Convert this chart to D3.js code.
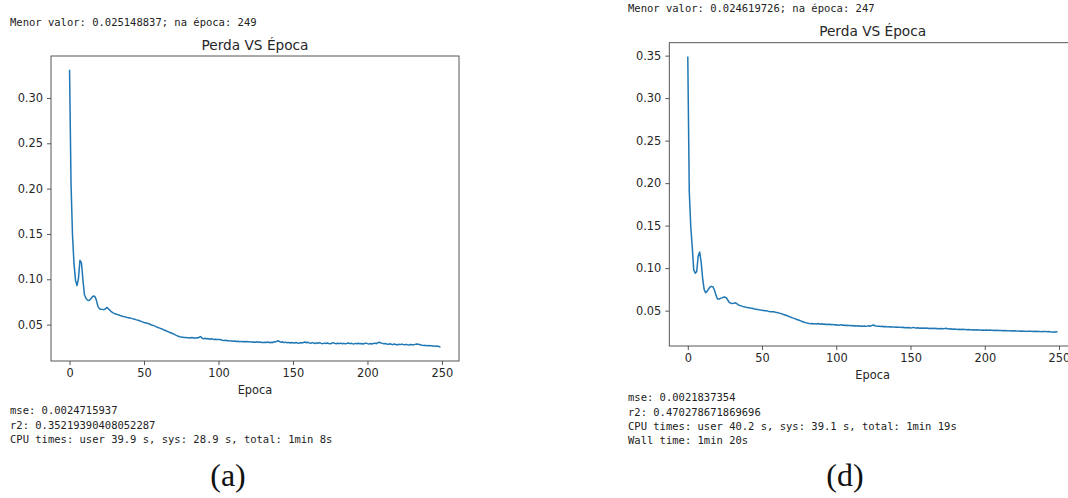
<!DOCTYPE html>
<html>
<head>
<meta charset="utf-8">
<script src="https://cdn.jsdelivr.net/npm/d3@7"></script>
<style>
  body { margin: 0; background: #fff; overflow: hidden; }
  svg { display: block; }
  .mono { font-family: "DejaVu Sans Mono", monospace; font-size: 10.5px; fill: #222; }
  .tick text { font-family: "DejaVu Sans", sans-serif; font-size: 11.4px; fill: #262626; }
  .caption { font-family: "Liberation Serif", serif; font-size: 32px; fill: #111; }
</style>
</head>
<body>
<script>
// loss per epoch, panel (a)
var lossA = [
  0.331, 0.205, 0.148, 0.117, 0.099, 0.093, 0.101, 0.121, 0.118, 0.099,
  0.083, 0.079, 0.077, 0.0765, 0.078, 0.080, 0.0815, 0.081, 0.077, 0.0705,
  0.0675, 0.067, 0.0668, 0.0665, 0.0672, 0.069, 0.0675, 0.066, 0.0642, 0.0632,
  0.0623, 0.0618, 0.0612, 0.0608, 0.0600, 0.0594, 0.0590, 0.0588, 0.0582, 0.0578,
  0.0574, 0.0572, 0.0566, 0.0562, 0.0558, 0.0552, 0.0548, 0.0542, 0.0536, 0.0530,
  0.0524, 0.0521, 0.0515, 0.0512, 0.0504, 0.0496, 0.0492, 0.0486, 0.0478, 0.0470,
  0.0464, 0.0458, 0.0451, 0.0444, 0.0438, 0.0430, 0.0423, 0.0416, 0.0410, 0.0402,
  0.0395, 0.0386, 0.0378, 0.0372, 0.0366, 0.0362, 0.0360, 0.0357, 0.0358, 0.0355,
  0.0356, 0.0353, 0.0358, 0.0354, 0.0350, 0.0356, 0.0352, 0.0360, 0.0368, 0.0350,
  0.0345, 0.0350, 0.0342, 0.0346, 0.0338, 0.0343, 0.0340, 0.0335, 0.0339, 0.0336,
  0.0335, 0.0337, 0.0330, 0.0326, 0.0324, 0.0327, 0.0321, 0.0323, 0.0318, 0.0320,
  0.0316, 0.0319, 0.0314, 0.0317, 0.0312, 0.0315, 0.0311, 0.0314, 0.0310, 0.0313,
  0.0310, 0.0307, 0.0312, 0.0306, 0.0309, 0.0305, 0.0311, 0.0304, 0.0308, 0.0302,
  0.0302, 0.0306, 0.0303, 0.0309, 0.0301, 0.0305, 0.0300, 0.0310, 0.0307, 0.0315,
  0.0322, 0.0312, 0.0305, 0.0310, 0.0301, 0.0307, 0.0299, 0.0304, 0.0297, 0.0303,
  0.0300, 0.0296, 0.0303, 0.0298, 0.0294, 0.0302, 0.0297, 0.0303, 0.0308, 0.0300,
  0.0305, 0.0298, 0.0295, 0.0301, 0.0296, 0.0292, 0.0299, 0.0294, 0.0302, 0.0293,
  0.0290, 0.0296, 0.0291, 0.0297, 0.0292, 0.0288, 0.0295, 0.0301, 0.0293, 0.0289,
  0.0294, 0.0290, 0.0296, 0.0289, 0.0293, 0.0288, 0.0292, 0.0297, 0.0290, 0.0294,
  0.0290, 0.0287, 0.0293, 0.0289, 0.0295, 0.0288, 0.0292, 0.0286, 0.0291, 0.0296,
  0.0290, 0.0285, 0.0292, 0.0287, 0.0291, 0.0296, 0.0289, 0.0300, 0.0305, 0.0298,
  0.0293, 0.0288, 0.0291, 0.0285, 0.0282, 0.0289, 0.0284, 0.0279, 0.0286, 0.0281,
  0.0276, 0.0283, 0.0279, 0.0285, 0.0280, 0.0277, 0.0282, 0.0278, 0.0276, 0.0280,
  0.0277, 0.0279, 0.0282, 0.0285, 0.0283, 0.0280, 0.0275, 0.0272, 0.0270, 0.0271,
  0.0268, 0.0269, 0.0266, 0.0267, 0.0265, 0.0264, 0.0262, 0.0263, 0.0258, 0.025148837
];

// loss per epoch, panel (d)
var lossD = [
  0.349, 0.190, 0.149, 0.125, 0.098, 0.094, 0.096, 0.114, 0.119, 0.107,
  0.088, 0.075, 0.071, 0.0727, 0.0755, 0.0778, 0.0786, 0.0778, 0.074, 0.068,
  0.0637, 0.0637, 0.0645, 0.065, 0.0657, 0.066, 0.065, 0.0622, 0.0595, 0.0588,
  0.0585, 0.0588, 0.0592, 0.0582, 0.0568, 0.0560, 0.0556, 0.0550, 0.0547, 0.0541,
  0.0538, 0.0534, 0.0530, 0.0528, 0.0524, 0.0520, 0.0517, 0.0514, 0.0510, 0.0507,
  0.0505, 0.0502, 0.0498, 0.0500, 0.0494, 0.0490, 0.0488, 0.0486, 0.0488, 0.0482,
  0.0478, 0.0474, 0.0468, 0.0465, 0.0458, 0.0452, 0.0446, 0.0440, 0.0433, 0.0426,
  0.0418, 0.0412, 0.0406, 0.0398, 0.0392, 0.0386, 0.0380, 0.0373, 0.0366, 0.0360,
  0.0356, 0.0351, 0.0348, 0.0346, 0.0349, 0.0344, 0.0347, 0.0342, 0.0348, 0.0341,
  0.0346, 0.0340, 0.0343, 0.0338, 0.0341, 0.0337, 0.0339, 0.0335, 0.0338, 0.0332,
  0.0335, 0.0331, 0.0329, 0.0335, 0.0327, 0.0330, 0.0325, 0.0328, 0.0324, 0.0326,
  0.0322, 0.0326, 0.0320, 0.0323, 0.0318, 0.0321, 0.0317, 0.0320, 0.0316, 0.0319,
  0.0315, 0.0318, 0.0322, 0.0317, 0.0326, 0.0331, 0.0322, 0.0318, 0.0315, 0.0317,
  0.0313, 0.0316, 0.0311, 0.0314, 0.0309, 0.0312, 0.0308, 0.0311, 0.0306, 0.0309,
  0.0304, 0.0307, 0.0303, 0.0306, 0.0301, 0.0304, 0.0300, 0.0302, 0.0298, 0.0301,
  0.0296, 0.0299, 0.0303, 0.0297, 0.0295, 0.0298, 0.0294, 0.0297, 0.0293, 0.0295,
  0.0292, 0.0295, 0.0291, 0.0294, 0.0290, 0.0293, 0.0289, 0.0292, 0.0288, 0.0291,
  0.0288, 0.0290, 0.0287, 0.0289, 0.0293, 0.0286, 0.0284, 0.0286, 0.0282, 0.0284,
  0.0280, 0.0282, 0.0279, 0.0281, 0.0278, 0.0280, 0.0277, 0.0279, 0.0276, 0.0278,
  0.0274, 0.0276, 0.0273, 0.0275, 0.0272, 0.0274, 0.0271, 0.0273, 0.0270, 0.0272,
  0.0270, 0.0272, 0.0269, 0.0271, 0.0268, 0.0270, 0.0267, 0.0269, 0.0266, 0.0268,
  0.0265, 0.0267, 0.0264, 0.0266, 0.0263, 0.0265, 0.0262, 0.0264, 0.0261, 0.0263,
  0.0260, 0.0262, 0.0259, 0.0261, 0.0258, 0.0260, 0.0257, 0.0259, 0.0256, 0.0258,
  0.0257, 0.0259, 0.0256, 0.0258, 0.0255, 0.0257, 0.0254, 0.0256, 0.0253, 0.0255,
  0.0254, 0.0256, 0.0253, 0.0255, 0.0252, 0.0250, 0.0248, 0.024619726, 0.0251, 0.0253
];

var xTicks = [0, 50, 100, 150, 200, 250];
var yTicksA = [0.05, 0.10, 0.15, 0.20, 0.25, 0.30];
var yTicksD = [0.05, 0.10, 0.15, 0.20, 0.25, 0.30, 0.35];

var headerA = "Menor valor: 0.025148837; na época: 249";
var headerD = "Menor valor: 0.024619726; na época: 247";
var footerA = ["mse: 0.0024715937", "r2: 0.35219390408052287",
               "CPU times: user 39.9 s, sys: 28.9 s, total: 1min 8s"];
var footerD = ["mse: 0.0021837354", "r2: 0.470278671869696",
               "CPU times: user 40.2 s, sys: 39.1 s, total: 1min 19s",
               "Wall time: 1min 20s"];

var W = 1068, H = 498;

var svg = d3.select("body").append("svg")
    .attr("width", W)
    .attr("height", H);

svg.append("rect").attr("width", W).attr("height", H).attr("fill", "#fff");

function drawPanel(p){
    var g = svg.append("g");
    var w = p.right - p.left, h = p.bottom - p.top;

    // matplotlib style 5% margins
    var xPad = (p.data.length - 1) * 0.05;
    var x = d3.scaleLinear()
        .domain([-xPad, p.data.length - 1 + xPad])
        .range([p.left, p.right]);
    var ext = d3.extent(p.data);
    var yPad = (ext[1] - ext[0]) * 0.05;
    var y = d3.scaleLinear()
        .domain([ext[0] - yPad, ext[1] + yPad])
        .range([p.bottom, p.top]);

    var line = d3.line()
        .x(function(d, i) { return x(i); })
        .y(function(d) { return y(d); });

    g.append("path")
        .datum(p.data)
        .attr("fill", "none")
        .attr("stroke", "#1f77b4")
        .attr("stroke-width", 1.5)
        .attr("stroke-linejoin", "round")
        .attr("d", line);

    var xAxis = g.append("g")
        .attr("transform", "translate(0," + p.bottom + ")")
        .call(d3.axisBottom(x).tickValues(xTicks).tickFormat(d3.format("d"))
            .tickSize(4).tickPadding(4).tickSizeOuter(0));
    var yAxis = g.append("g")
        .attr("transform", "translate(" + p.left + ",0)")
        .call(d3.axisLeft(y).tickValues(p.yTicks).tickFormat(d3.format(".2f"))
            .tickSize(4).tickPadding(4).tickSizeOuter(0));
    [xAxis, yAxis].forEach(function(a){
        a.select(".domain").remove();
        a.selectAll(".tick line").attr("stroke", "#444").attr("stroke-width", 0.9);
    });

    g.append("rect")
        .attr("x", p.left).attr("y", p.top)
        .attr("width", w).attr("height", h)
        .attr("fill", "none")
        .attr("stroke", "#444")
        .attr("stroke-width", 0.9);

    g.append("text")
        .attr("x", (p.left + p.right) / 2)
        .attr("y", p.top - 6.5)
        .attr("text-anchor", "middle")
        .attr("font-family", "DejaVu Sans, sans-serif")
        .attr("font-size", "13.7px")
        .attr("fill", "#262626")
        .text("Perda VS Época");

    g.append("text")
        .attr("x", (p.left + p.right) / 2)
        .attr("y", p.bottom + 32.5)
        .attr("text-anchor", "middle")
        .attr("font-family", "DejaVu Sans, sans-serif")
        .attr("font-size", "11.4px")
        .attr("fill", "#262626")
        .text("Epoca");

    g.append("text")
        .attr("class", "mono")
        .attr("x", p.textX)
        .attr("y", p.headerY)
        .text(p.header);

    g.selectAll(".foot")
        .data(p.footer)
        .enter().append("text")
            .attr("class", "mono")
            .attr("x", p.textX)
            .attr("y", function(d, i) { return p.footerY + i * 14.3; })
            .text(function(d) { return d; });

    g.append("text")
        .attr("class", "caption")
        .attr("x", p.captionX)
        .attr("y", 486)
        .attr("text-anchor", "middle")
        .text(p.caption);
}

drawPanel({
    data: lossA, yTicks: yTicksA,
    left: 51, right: 459, top: 56, bottom: 361,
    textX: 10, headerY: 26, header: headerA,
    footerY: 414.3, footer: footerA,
    captionX: 228, caption: "(a)"
});

drawPanel({
    data: lossD, yTicks: yTicksD,
    left: 669.3, right: 1076, top: 42.7, bottom: 346,
    textX: 628, headerY: 11.5, header: headerD,
    footerY: 401.3, footer: footerD,
    captionX: 845, caption: "(d)"
});
</script>
</body>
</html>
